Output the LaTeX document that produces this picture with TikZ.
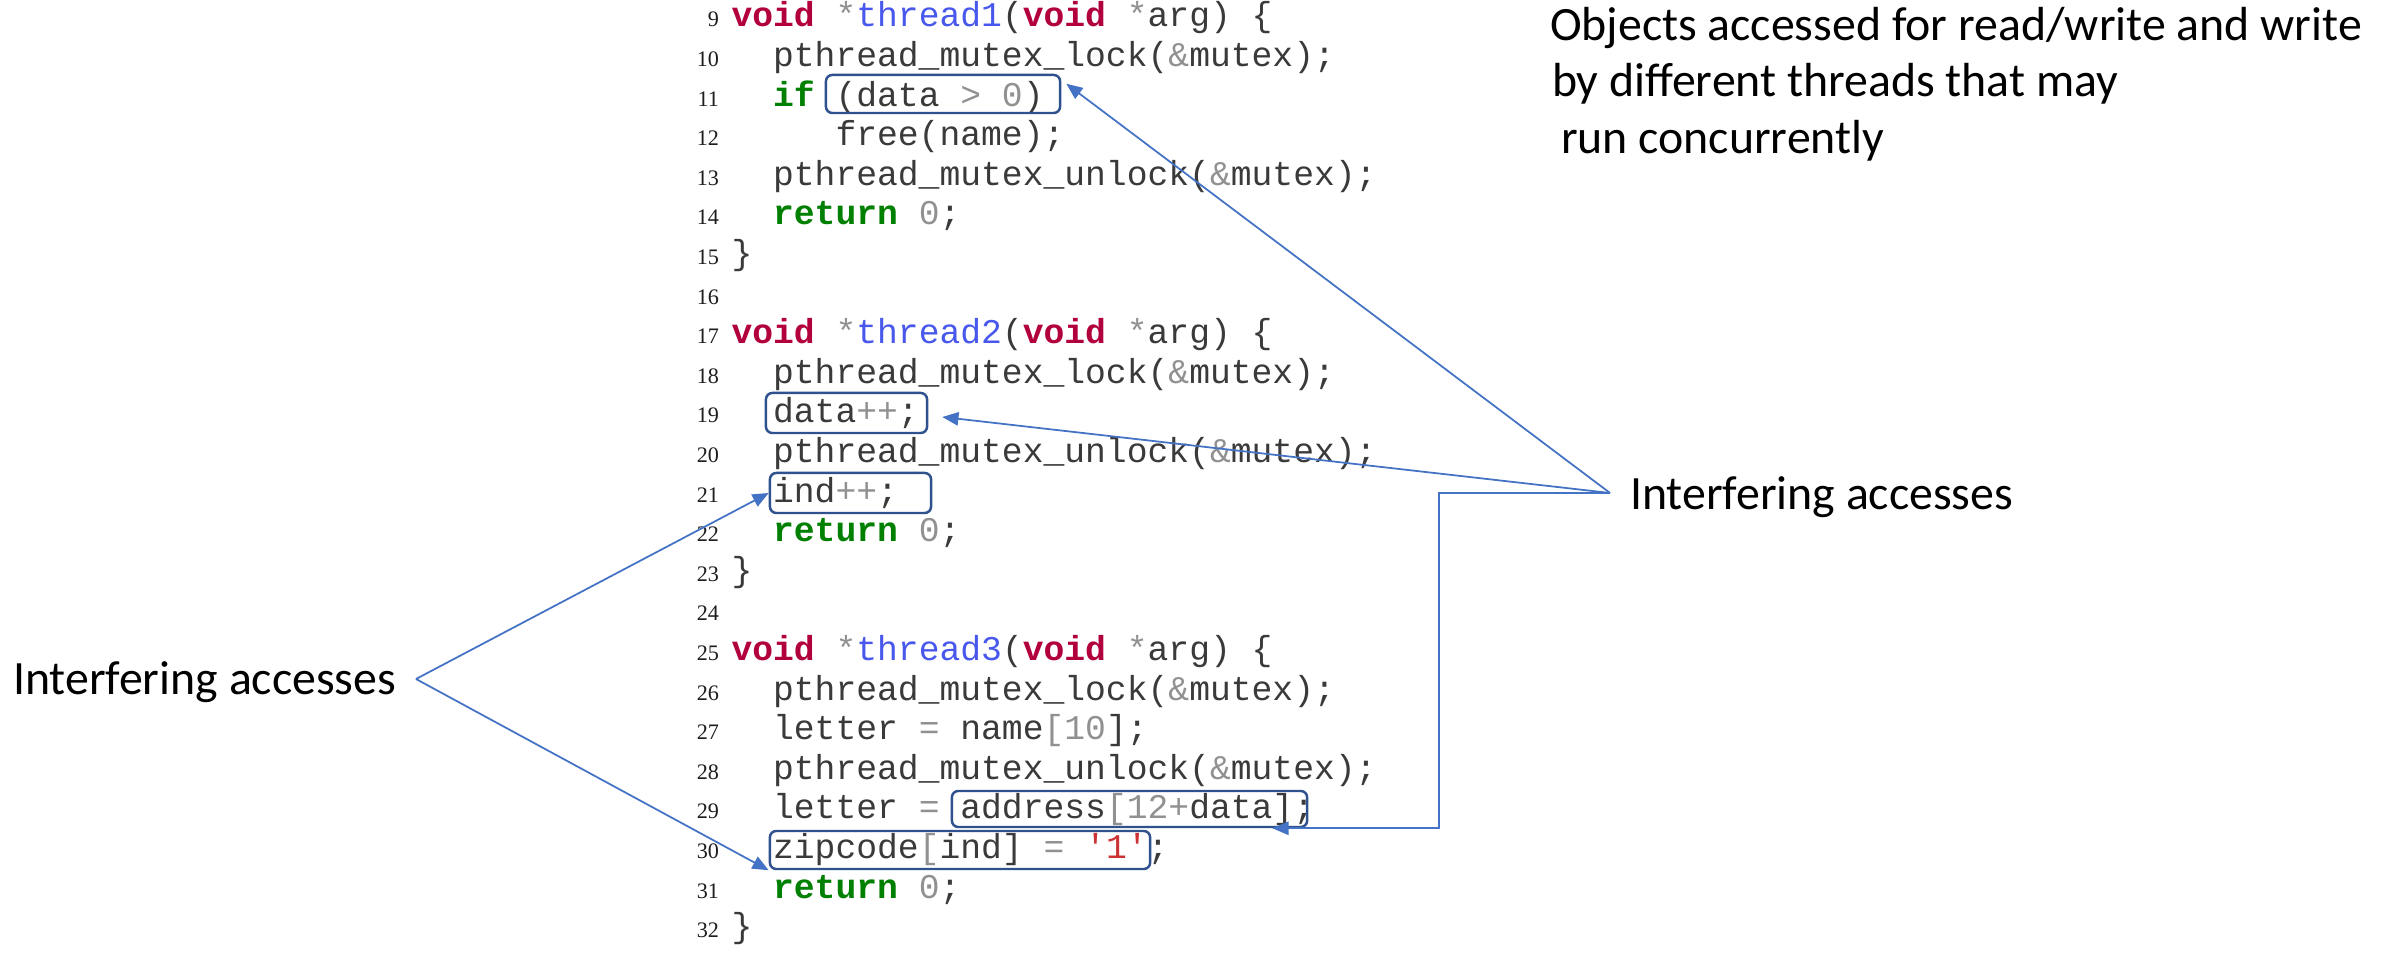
\documentclass[tikz,border=0pt]{standalone}
\usepackage{fontspec}
\setmainfont{Carlito}
\setmonofont{Liberation Mono}
\newfontfamily\numfont{Liberation Serif}
\usetikzlibrary{arrows.meta}
\definecolor{codetext}{RGB}{58,58,58}
\definecolor{codegray}{RGB}{145,145,145}
\definecolor{numtext}{RGB}{30,30,30}
\definecolor{kwred}{RGB}{178,0,62}
\definecolor{fnblue}{RGB}{72,88,236}
\definecolor{kwgreen}{RGB}{0,128,0}
\definecolor{strred}{RGB}{205,50,50}
\definecolor{boxblue}{RGB}{47,82,143}
\definecolor{arrowblue}{RGB}{68,114,196}
\newcommand\cKw[1]{{\bfseries\color{kwred}#1}}
\newcommand\cGn[1]{{\bfseries\color{kwgreen}#1}}
\newcommand\cFn[1]{{\color{fnblue}#1}}
\newcommand\cGy[1]{{\color{codegray}#1}}
\newcommand\cSt[1]{{\color{strred}#1}}
\newcommand\lnum[1]{\node[lnumst] (n#1) at (719,{27+(#1-9)*39.6}) {#1};}
\newcommand\codeln[3]{\lnum{#1}\node[codest] (c#1) at ({731.5+#2*20.8},{27+(#1-9)*39.6}) {#3};}
\begin{document}
\begin{tikzpicture}[x=0.01cm,y=-0.01cm,
  codest/.style={anchor=base west, inner sep=0pt, outer sep=0pt, text=codetext,
    font=\ttfamily\fontsize{9.86}{12}\selectfont},
  lnumst/.style={anchor=base east, inner sep=0pt, outer sep=0pt, text=numtext,
    font=\numfont\fontsize{6.3}{7}\selectfont},
  accbox/.style={draw=boxblue, line width=0.7pt, rounded corners=1.8pt, inner sep=0pt},
  conn/.style={draw=arrowblue, line width=0.5pt},
  tipst/.style={-{Triangle[length=4.6pt,width=3.8pt]}},
  lab/.style={anchor=base west, inner sep=0pt, outer sep=0pt, text=black,
    font=\fontsize{13.6}{16}\selectfont}]
\fill[white] (0,0) rectangle (2392,965);
\useasboundingbox (0,0) rectangle (2392,965);

% code
\codeln{9}{0}{\cKw{void} \cGy{*}\cFn{thread1}(\cKw{void} \cGy{*}arg) \{}
\codeln{10}{2}{pthread\_mutex\_lock(\cGy{\&}mutex);}
\codeln{11}{2}{\cGn{if} (data \cGy{>} \cGy{0})}
\codeln{12}{5}{free(name);}
\codeln{13}{2}{pthread\_mutex\_unlock(\cGy{\&}mutex);}
\codeln{14}{2}{\cGn{return} \cGy{0};}
\codeln{15}{0}{\}}
\lnum{16}
\codeln{17}{0}{\cKw{void} \cGy{*}\cFn{thread2}(\cKw{void} \cGy{*}arg) \{}
\codeln{18}{2}{pthread\_mutex\_lock(\cGy{\&}mutex);}
\codeln{19}{2}{data\cGy{++};}
\codeln{20}{2}{pthread\_mutex\_unlock(\cGy{\&}mutex);}
\codeln{21}{2}{ind\cGy{++};}
\codeln{22}{2}{\cGn{return} \cGy{0};}
\codeln{23}{0}{\}}
\lnum{24}
\codeln{25}{0}{\cKw{void} \cGy{*}\cFn{thread3}(\cKw{void} \cGy{*}arg) \{}
\codeln{26}{2}{pthread\_mutex\_lock(\cGy{\&}mutex);}
\codeln{27}{2}{letter \cGy{=} name\cGy{[10}];}
\codeln{28}{2}{pthread\_mutex\_unlock(\cGy{\&}mutex);}
\codeln{29}{2}{letter \cGy{=} address\cGy{[12+}data];}
\codeln{30}{2}{zipcode\cGy{[}ind] \cGy{=} \cSt{'1'};}
\codeln{31}{2}{\cGn{return} \cGy{0};}
\codeln{32}{0}{\}}

% highlighted accesses
\node[accbox, minimum width=2.34cm, minimum height=0.38cm] (b1) at (943,94) {};
\node[accbox, minimum width=1.61cm, minimum height=0.40cm] (b2) at (846.5,413) {};
\node[accbox, minimum width=1.61cm, minimum height=0.40cm] (b3) at (850.5,493) {};
\node[accbox, minimum width=3.55cm, minimum height=0.36cm] (b4) at (1129.5,809) {};
\node[accbox, minimum width=3.80cm, minimum height=0.38cm] (b5) at (960,850) {};

% labels
\node[lab] (o1) at (1550,41) {Objects accessed for read/write and write};
\node[lab] (o2) at (1552,97) {by different threads that may};
\node[lab] (o3) at (1561,154) {run concurrently};
\node[lab] (rlab) at (1630,510) {Interfering accesses};
\node[lab] (llab) at (13,695) {Interfering accesses};

% connector vertices
\coordinate (rv) at (1610,493);
\coordinate (lv) at (416,679);
\coordinate (elb) at (1439,493);

% connectors
\draw[conn,tipst] (rv) -- ([shift={(5,10)}]b1.north east);
\draw[conn,tipst] (rv) -- ([shift={(14,4)}]b2.east);
\draw[conn,tipst] (rv) -- (elb) |- ([shift={(-36,0)}]b4.south east);
\draw[conn,tipst] (lv) -- (b3.west);
\draw[conn,tipst] (lv) -- (b5.south west);
\end{tikzpicture}
\end{document}
